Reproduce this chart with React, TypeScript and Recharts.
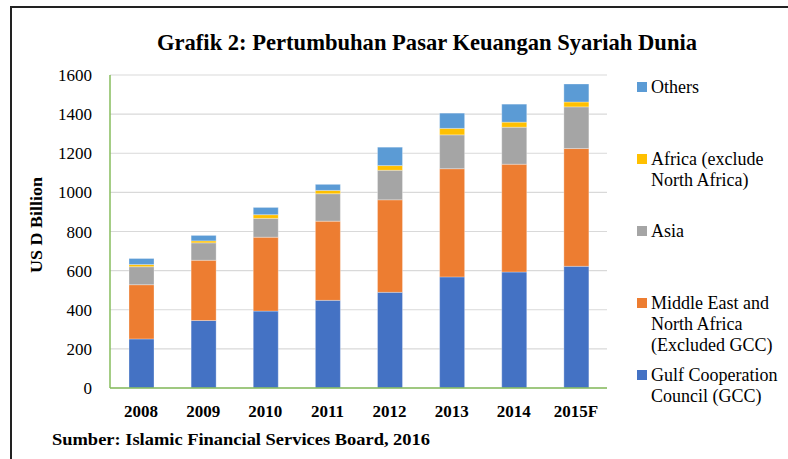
import React from 'react';
import { BarChart, Bar, XAxis, YAxis, CartesianGrid } from 'recharts';

const years = ['2008', '2009', '2010', '2011', '2012', '2013', '2014', '2015F'];
const gcc = [251, 345, 393, 448, 489, 568, 593, 622];
const mena = [277, 308, 378, 405, 473, 553, 551, 602];
const asia = [92, 89, 96, 140, 151, 173, 189, 213];
const africa = [11, 10, 19, 17, 24, 33, 26, 25];
const others = [31, 28, 37, 31, 94, 78, 92, 92];
const yTicks = [0, 200, 400, 600, 800, 1000, 1200, 1400, 1600];

const titleText = 'Grafik  2: Pertumbuhan Pasar Keuangan Syariah Dunia';
const yAxisTitle = 'US D Billion';
const sourceText = 'Sumber: Islamic Financial Services Board, 2016';

// stacking order bottom -> top
const series = [
  { key: 'gcc', values: gcc, color: '#4472C4', label: ['Gulf Cooperation', 'Council (GCC)'] },
  { key: 'mena', values: mena, color: '#ED7D31', label: ['Middle East and', 'North Africa', '(Excluded GCC)'] },
  { key: 'asia', values: asia, color: '#A5A5A5', label: ['Asia'] },
  { key: 'africa', values: africa, color: '#FFC000', label: ['Africa (exclude', 'North Africa)'] },
  { key: 'others', values: others, color: '#5B9BD5', label: ['Others'] },
];

const data = years.map((year, i) => {
  const row: Record<string, string | number> = { year };
  series.forEach((s) => {
    row[s.key] = s.values[i];
  });
  return row;
});

const FONT = '"Liberation Serif", "Times New Roman", serif';
const GREEN = '#86BC5C';

export default function App() {
  const legendItems = [...series].reverse();
  return (
    <div style={{ position: 'absolute', left: 0, top: 0, width: 788, height: 459, background: '#fff', overflow: 'hidden' }}>
      <div
        style={{
          position: 'absolute',
          left: 10,
          top: 6,
          width: 800,
          height: 470,
          borderTop: '2px solid #222',
          borderLeft: '2px solid #222',
        }}
      />
      <div style={{ position: 'absolute', left: 0, top: 0 }}>
        <BarChart
          width={788}
          height={459}
          data={data}
          margin={{ top: 75, right: 181, left: 0, bottom: 41 }}
          barSize={25}
        >
          <CartesianGrid vertical={false} stroke="#D9D9D9" strokeWidth={1.2} />
          <XAxis
            dataKey="year"
            height={30}
            tickLine={false}
            tickSize={0}
            tickMargin={17}
            axisLine={{ stroke: GREEN, strokeWidth: 1.5 }}
            tick={{ fontSize: 17, fontFamily: FONT, fontWeight: 'bold', fill: '#000' }}
            interval={0}
          />
          <YAxis
            width={110}
            domain={[0, 1600]}
            ticks={yTicks}
            tickLine={false}
            tickSize={0}
            tickMargin={18}
            axisLine={{ stroke: GREEN, strokeWidth: 1.5 }}
            tick={{ fontSize: 17, fontFamily: FONT, fill: '#000' }}
            interval={0}
          />
          {series.map((s) => (
            <Bar
              key={s.key}
              dataKey={s.key}
              stackId="a"
              fill={s.color}
              stroke="#ffffff"
              strokeOpacity={0.5}
              strokeWidth={0.6}
              isAnimationActive={false}
            />
          ))}
        </BarChart>
      </div>
      <svg
        width={788}
        height={459}
        style={{ position: 'absolute', left: 0, top: 0, pointerEvents: 'none' }}
      >
        <text
          x={427}
          y={50}
          textAnchor="middle"
          fontFamily={FONT}
          fontWeight="bold"
          fontSize={24}
          textLength={540}
          lengthAdjust="spacingAndGlyphs"
          fill="#000"
        >
          {titleText}
        </text>
        <text
          transform="translate(42,225) rotate(-90)"
          textAnchor="middle"
          fontFamily={FONT}
          fontWeight="bold"
          fontSize={17}
          textLength={96}
          lengthAdjust="spacingAndGlyphs"
          fill="#000"
        >
          {yAxisTitle}
        </text>
        <text
          x={52}
          y={445}
          fontFamily={FONT}
          fontWeight="bold"
          fontSize={17}
          textLength={378}
          lengthAdjust="spacingAndGlyphs"
          fill="#000"
        >
          {sourceText}
        </text>
        {legendItems.map((s, i) => {
          const base = 93 + 72 * i;
          return (
            <g key={s.key}>
              <rect x={637} y={base - 11} width={10} height={10} fill={s.color} />
              {s.label.map((line, j) => (
                <text
                  key={j}
                  x={651}
                  y={base + 21 * j}
                  fontFamily={FONT}
                  fontSize={18}
                  fill="#000"
                >
                  {line}
                </text>
              ))}
            </g>
          );
        })}
      </svg>
    </div>
  );
}
